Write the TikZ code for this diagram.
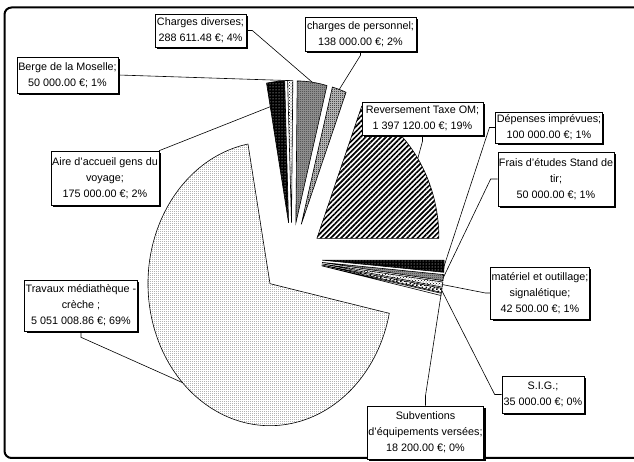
\documentclass[tikz,border=0pt]{standalone}
\usepackage{fontspec}
\setmainfont{Liberation Sans}
\usetikzlibrary{patterns,patterns.meta,shadows}
\pgfdeclarepatternformonly{finecheck}{\pgfqpoint{0pt}{0pt}}{\pgfqpoint{2pt}{2pt}}{\pgfqpoint{2pt}{2pt}}{%
  \pgfpathrectangle{\pgfqpoint{0pt}{0pt}}{\pgfqpoint{1pt}{1pt}}%
  \pgfpathrectangle{\pgfqpoint{1pt}{1pt}}{\pgfqpoint{1pt}{1pt}}%
  \pgfusepath{fill}}
\pgfdeclarepatternformonly{finedots}{\pgfqpoint{0pt}{0pt}}{\pgfqpoint{2pt}{2pt}}{\pgfqpoint{2pt}{2pt}}{%
  \pgfpathrectangle{\pgfqpoint{0pt}{0pt}}{\pgfqpoint{0.9pt}{0.9pt}}%
  \pgfusepath{fill}}
\pgfdeclarepatternformonly{coarsecheck}{\pgfqpoint{0pt}{0pt}}{\pgfqpoint{4pt}{4pt}}{\pgfqpoint{4pt}{4pt}}{%
  \pgfpathrectangle{\pgfqpoint{0pt}{0pt}}{\pgfqpoint{2pt}{2pt}}%
  \pgfpathrectangle{\pgfqpoint{2pt}{2pt}}{\pgfqpoint{2pt}{2pt}}%
  \pgfusepath{fill}}
\newcommand\mkslice[4]{%
  \pgfmathsetmacro\slmid{(#2+#3)/2}%
  \path (C) ++(\slmid:30.4pt and 36pt) coordinate (#1-apex) ++(\slmid:122pt and 142pt) coordinate (#1-tip);
  \draw[#4] (#1-apex) -- ++(#2:122pt and 142pt) arc[start angle=#2, end angle=#3, x radius=122pt, y radius=142pt] -- cycle;
}
\tikzset{
  slice/.style={draw=black, line width=0.6pt},
  travst/.style={slice, preaction={fill=white}, pattern=finedots, pattern color=black!70},
  revst/.style={slice, preaction={fill=white}, pattern={Lines[angle=45,distance=3.6pt,line width=1.7pt]}, pattern color=black},
  persst/.style={slice, preaction={fill=black!20}, pattern=finecheck, pattern color=black},
  grayst/.style={slice, preaction={fill=black!40}, pattern=finecheck, pattern color=black!80},
  lightdotst/.style={slice, preaction={fill=white}, pattern=crosshatch dots, pattern color=black},
  darkdotst/.style={slice, preaction={fill=black}, pattern=dots, pattern color=white},
  sigst/.style={slice, preaction={fill=white}, pattern=coarsecheck, pattern color=black},
  plainst/.style={slice, fill=white},
  lbl/.style={draw=black, line width=0.6pt, fill=white, align=center, inner xsep=1pt, inner ysep=0pt,
    font=\fontsize{10.8pt}{16pt}\selectfont,
    drop shadow={shadow xshift=2pt, shadow yshift=-2pt, fill=black, opacity=1}},
  leader/.style={draw=black, line width=0.6pt}
}
\begin{document}
\begin{tikzpicture}[x=1pt, y=1pt]
\useasboundingbox (0,0) rectangle (634,462);
\clip (0,0) rectangle (634,462);
\fill[white] (0,0) rectangle (634,462);
\draw[line width=2pt, rounded corners=7pt] (660,4) -- (4.5,4) -- (4.5,454.5) -- (660,454.5);

\coordinate (C) at (291.8,203.4);
\mkslice{rev}{0}{68.47}{revst}
\mkslice{pers}{68.47}{75.233}{persst}
\mkslice{chg}{75.233}{89.373}{grayst}
\mkslice{berge}{89.373}{91.824}{lightdotst}
\mkslice{aire}{91.824}{100.401}{darkdotst}
\mkslice{trav}{100.401}{347.951}{travst}
\mkslice{subv}{347.951}{348.843}{plainst}
\mkslice{sig}{348.843}{350.558}{sigst}
\mkslice{mat}{350.558}{352.641}{lightdotst}
\mkslice{frais}{352.641}{355.092}{grayst}
\mkslice{dep}{355.092}{360}{darkdotst}
\path (aire-apex) ++(100.401:102pt and 118pt) coordinate (aire-edge);

\node[lbl, minimum width=91pt, minimum height=33pt] (lchg) at (200.5,431.5) {Charges diverses;\\288 611.48 €; 4\%};
\node[lbl, minimum width=111pt, minimum height=34pt] (lpers) at (360.5,428) {charges de personnel;\\138 000.00 €; 2\%};
\node[lbl, minimum width=101pt, minimum height=36pt] (lberge) at (67.5,387) {Berge de la Moselle;\\50 000.00 €; 1\%};
\node[lbl, minimum width=121pt, minimum height=33pt] (lrev) at (422.5,343.5) {Reversement Taxe OM;\\1 397 120.00 €; 19\%};
\node[lbl, minimum width=106pt, minimum height=31pt] (ldep) at (549,334.5) {Dépenses imprévues;\\100 000.00 €; 1\%};
\node[lbl, minimum width=116pt, minimum height=54pt] (lfrais) at (556,283) {Frais d'études Stand de\\tir;\\50 000.00 €; 1\%};
\node[lbl, minimum width=98pt, minimum height=52pt] (lmat) at (540,169) {matériel et outillage;\\signalétique;\\42 500.00 €; 1\%};
\node[lbl, minimum width=82pt, minimum height=37pt] (lsig) at (543,67.5) {S.I.G.;\\35 000.00 €; 0\%};
\node[lbl, minimum width=115pt, minimum height=53pt] (lsubv) at (425.5,29.5) {Subventions\\d'équipements versées;\\18 200.00 €; 0\%};
\node[lbl, minimum width=106pt, minimum height=54pt] (laire) at (105,284) {Aire d'accueil gens du\\voyage;\\175 000.00 €; 2\%};
\node[lbl, minimum width=112pt, minimum height=51pt] (ltrav) at (81,156.5) {Travaux médiathèque -\\crèche ;\\5 051 008.86 €; 69\%};

\draw[leader] (lchg.east) -- ++(6,0) -- (chg-tip);
\draw[leader] (lpers.south) -- ++(0,-4) -- (pers-tip);
\draw[leader] (lberge.east) -- (berge-tip);
\draw[leader] (laire.north east) -- (aire-edge);
\draw[leader] (lrev.south) -- ++(0,-6) -- (rev-tip);
\draw[leader] (ldep.west) -- ++(-6,0) -- (dep-tip);
\draw[leader] (lfrais.west) -- ++(-7,0) -- (frais-tip);
\draw[leader] (lmat.west) -- ++(-5,0) -- (mat-tip);
\draw[leader] (lsig.west) -- ++(-7,0) -- (sig-tip);
\draw[leader] (lsubv.north) -- ++(0,10) -- (subv-tip);
\draw[leader] (ltrav.south) -- ++(0,-6) -- (trav-tip);
\end{tikzpicture}
\end{document}
